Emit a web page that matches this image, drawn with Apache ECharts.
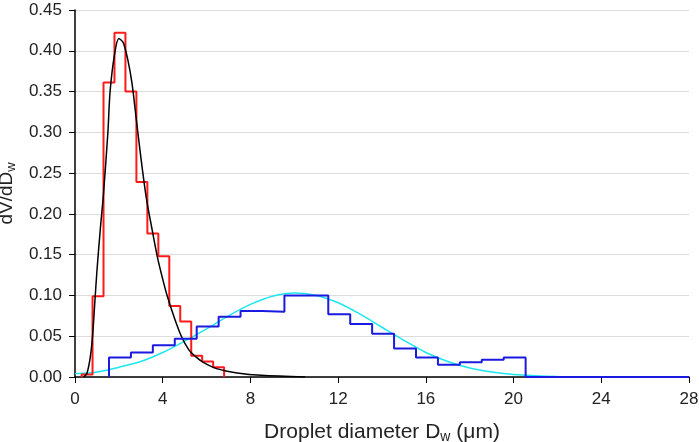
<!DOCTYPE html>
<html>
<head>
<meta charset="utf-8">
<script src="https://cdn.jsdelivr.net/npm/echarts@6/dist/echarts.min.js"></script>
<style>
  html, body { margin: 0; padding: 0; background: #fff; }
  #chart { width: 699px; height: 442px; }
</style>
</head>
<body>
<div id="chart"></div>
<script>
// red histogram (bin edges and heights)
var redEdges = [0.3, 0.8, 1.3, 1.8, 2.3, 2.8, 3.3, 3.8, 4.3, 4.8, 5.3, 5.8, 6.3, 6.8];
var redValues = [0.003, 0.099, 0.361, 0.422, 0.350, 0.239, 0.176, 0.148, 0.087, 0.068, 0.026, 0.019, 0.012];

// blue histogram
var blueEdges = [1.55, 2.55, 3.55, 4.55, 5.55, 6.55, 7.55, 8.55, 9.55, 10.55, 11.55, 12.55, 13.55, 14.55, 15.55, 16.55, 17.55, 18.55, 19.55, 20.55, 28];
var blueValues = [0.024, 0.030, 0.039, 0.047, 0.062, 0.074, 0.081, 0.080, 0.100, 0.100, 0.077, 0.065, 0.053, 0.035, 0.024, 0.015, 0.018, 0.021, 0.024, 0];

// black fitted curve
var blackX = [0.4, 0.55, 0.7, 0.8, 0.9, 1.0, 1.15, 1.3, 1.5, 1.6, 1.8, 2.0, 2.2, 2.4, 2.6, 2.8, 3.0, 3.25, 3.5, 3.75, 4.0, 4.2, 4.5, 4.85, 5.2, 5.5, 5.85, 6.5, 7.4, 8.5, 10.5];
var blackY = [0, 0.005, 0.025, 0.05, 0.09, 0.13, 0.18, 0.225, 0.30, 0.35, 0.395, 0.415, 0.41, 0.39, 0.36, 0.315, 0.27, 0.22, 0.183, 0.148, 0.12, 0.10, 0.075, 0.05, 0.033, 0.025, 0.018, 0.01, 0.005, 0.002, 0];

// cyan fitted curve
var cyanX = [0, 1, 2, 3, 4, 5, 6, 7, 8, 9, 10, 11, 12, 13, 14, 15, 16, 17, 18, 19, 20, 21, 22, 23, 24, 26, 28];
var cyanY = [0.004, 0.006, 0.012, 0.019, 0.030, 0.044, 0.059, 0.075, 0.089, 0.099, 0.103, 0.100, 0.091, 0.077, 0.061, 0.045, 0.030, 0.019, 0.011, 0.006, 0.003, 0.0015, 0.0006, 0.0002, 0, 0, 0];

var xTicks = [0, 4, 8, 12, 16, 20, 24, 28];

function histLine(edges, values) {
    var pts = [[edges[0], 0]];
    for (var i = 0; i < values.length; i++) {
        pts.push([edges[i], values[i]]);
        pts.push([edges[i + 1], values[i]]);
    }
    pts.push([edges[edges.length - 1], 0]);
    return pts;
}

function zip(xs, ys) {
    return xs.map(function (x, i) { return [x, ys[i]]; });
}

var myChart = echarts.init(document.getElementById('chart'));
var font = 'Liberation Sans, Arial, sans-serif';

myChart.setOption({
    animation: false,
    grid: { left: 75, right: 10, top: 10, bottom: 65, containLabel: false, outerBoundsMode: 'none' },
    xAxis: {
        type: 'value',
        min: xTicks[0],
        max: xTicks[xTicks.length - 1],
        interval: 4,
        name: 'Droplet diameter D{sub|w} (μm)',
        nameLocation: 'middle',
        nameGap: 43,
        nameTextStyle: {
            fontFamily: font, fontSize: 21, color: '#222',
            rich: { sub: { fontFamily: font, fontSize: 14, color: '#222', verticalAlign: 'bottom', padding: [10, 0, 0, 0] } }
        },
        axisLine: { onZero: false, lineStyle: { color: '#000', width: 1.5 } },
        axisTick: { show: true, length: 6, lineStyle: { color: '#000' } },
        axisLabel: { fontFamily: font, fontSize: 17, color: '#222', margin: 14 },
        splitLine: { show: false }
    },
    yAxis: {
        type: 'value',
        min: 0,
        max: 0.45,
        interval: 0.05,
        name: 'dV/dD{sub|w}',
        nameLocation: 'middle',
        nameGap: 53,
        nameTextStyle: {
            fontFamily: font, fontSize: 19, color: '#222',
            rich: { sub: { fontFamily: font, fontSize: 13, color: '#222', verticalAlign: 'bottom', padding: [9, 0, 0, 0] } }
        },
        axisLine: { show: true, lineStyle: { color: '#000', width: 1.5 } },
        axisTick: { show: true, length: 6, lineStyle: { color: '#000' } },
        axisLabel: {
            fontFamily: font, fontSize: 17, color: '#222', margin: 13,
            formatter: function (v) { return v.toFixed(2); }
        },
        splitLine: { show: true, lineStyle: { color: '#dcdcdc', width: 1 } }
    },
    series: [
        {
            name: 'red', type: 'line', symbol: 'none', z: 3,
            data: histLine(redEdges, redValues),
            lineStyle: { color: '#ff1a1a', width: 2 }
        },
        {
            name: 'black', type: 'line', symbol: 'none', smooth: 0.3, z: 4,
            data: zip(blackX, blackY),
            lineStyle: { color: '#000', width: 1.5 }
        },
        {
            name: 'cyan', type: 'line', symbol: 'none', smooth: 0.3, z: 2,
            data: zip(cyanX, cyanY),
            lineStyle: { color: '#1ee6f0', width: 1.5 }
        },
        {
            name: 'blue', type: 'line', symbol: 'none', z: 5,
            data: histLine(blueEdges, blueValues),
            lineStyle: { color: '#1a1ae0', width: 2 }
        }
    ]
});
</script>
</body>
</html>
